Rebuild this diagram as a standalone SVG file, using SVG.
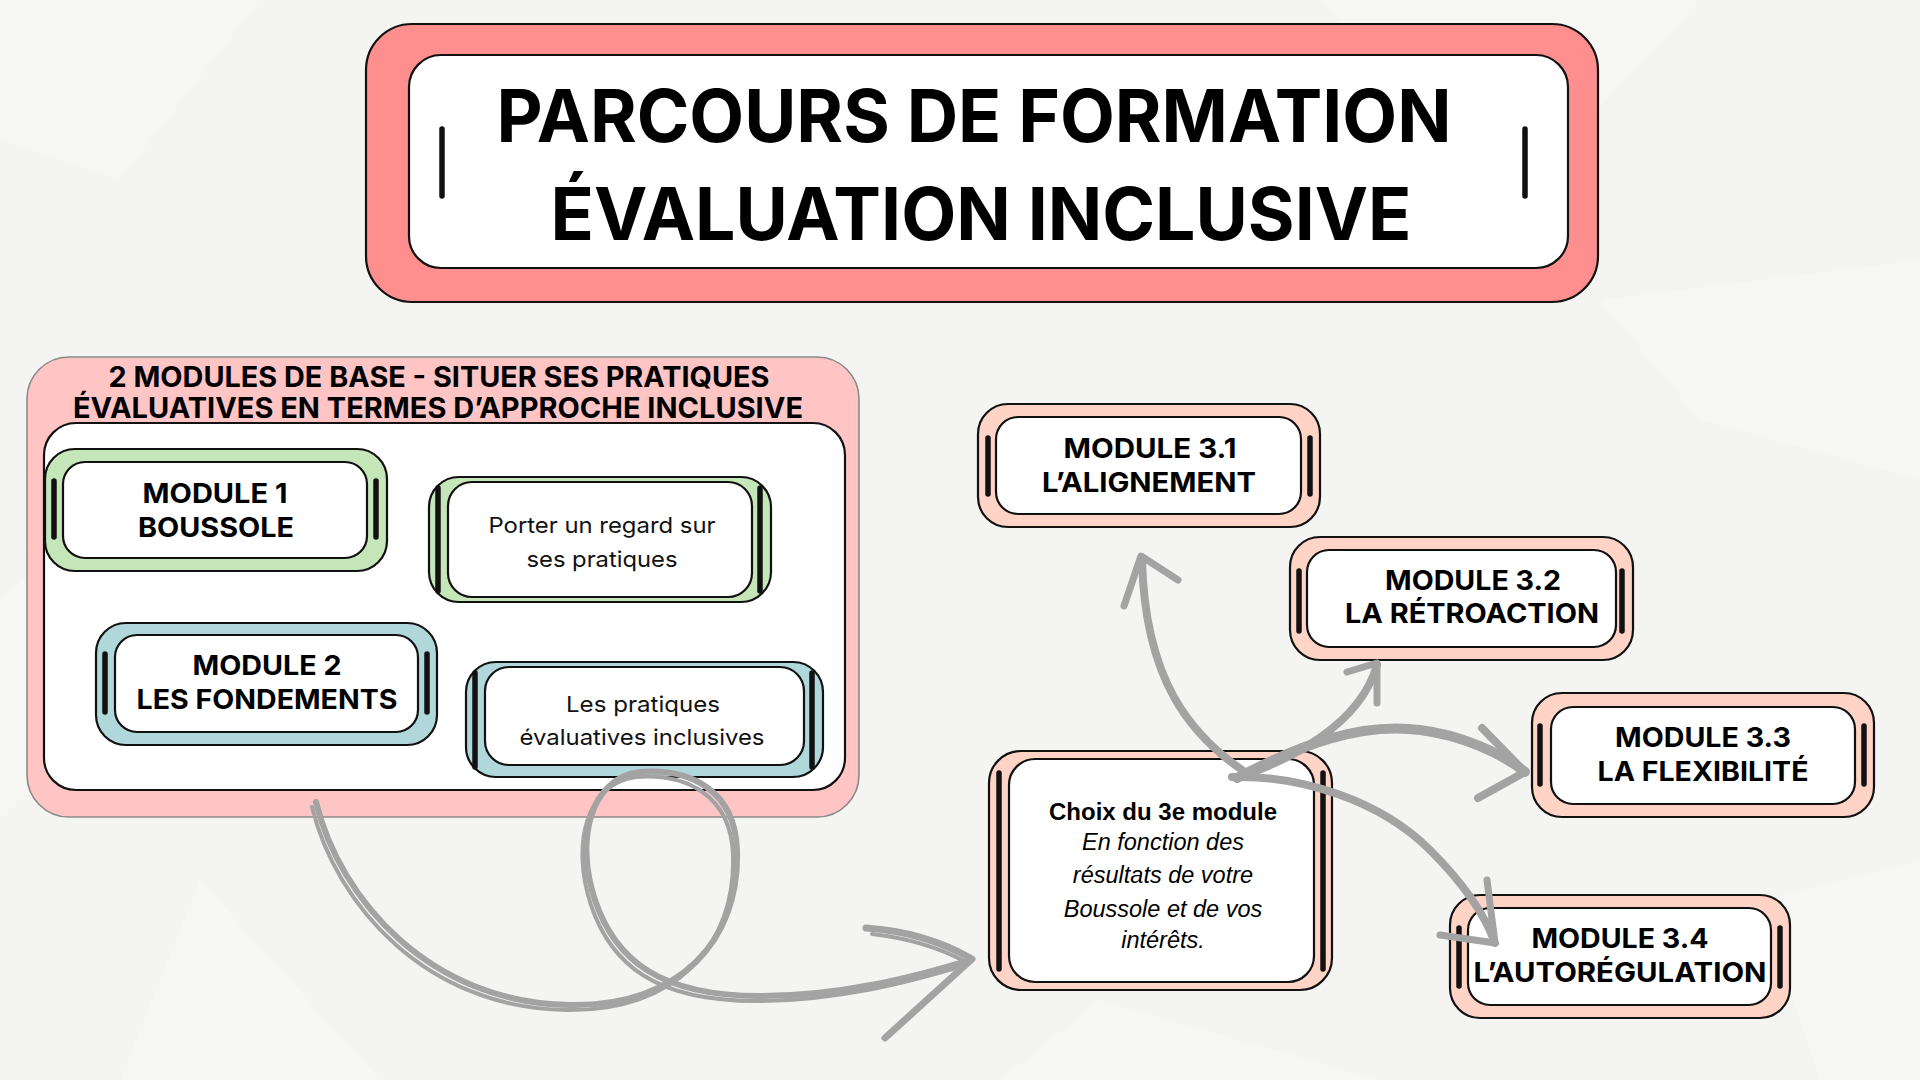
<svg xmlns="http://www.w3.org/2000/svg" xmlns:xlink="http://www.w3.org/1999/xlink" width="1920" height="1080" viewBox="0 0 1920 1080">
<style>
.bg{fill:#f4f4f3}
.tex{fill:#ffffff;opacity:0.22}
.frame{stroke:#111;stroke-width:2.2}
.inner{fill:#fff;stroke:#111;stroke-width:2.2}
.bar{stroke:#111;stroke-width:5.5;stroke-linecap:round}
.pinkT{fill:#ff8f8f}
.grp{fill:#ffc4c4;stroke:#8a8a8a;stroke-width:1.6}
.green{fill:#c5e6b8}
.blue{fill:#b0d7da}
.peach{fill:#ffd3c6}
.h{font-family:Inter,"Noto Sans","Liberation Sans",sans-serif;font-weight:700;fill:#000;text-anchor:middle}
.r{font-family:Inter,"Noto Sans","Liberation Sans",sans-serif;font-weight:400;fill:#111;text-anchor:middle}
.a{font-family:"Liberation Sans",Arial,sans-serif;fill:#000;text-anchor:middle}
.arr{fill:none;stroke:#a3a3a3;stroke-linecap:round;stroke-linejoin:round}
</style>
<defs>
<path id="loop" d="M316,802 C340,900 430,1003 570,1005 C680,1007 740,940 737,850 C735,790 690,768 640,772 C590,778 575,840 595,900 C615,960 660,996 760,996 C840,996 910,978 970,960"/>
</defs>
<rect class="bg" x="0" y="0" width="1920" height="1080"/>
<g id="texture">
<polygon class="tex" points="0,0 260,0 120,180 0,140"/>
<polygon class="tex" points="1320,0 1700,0 1560,150 1400,90"/>
<polygon class="tex" points="0,600 90,520 60,760 0,820"/>
<polygon class="tex" points="1600,300 1920,260 1920,480 1700,420"/>
<polygon class="tex" points="200,880 380,1080 120,1080"/>
<polygon class="tex" points="1100,1000 1380,1080 1000,1080"/>
<polygon class="tex" points="1760,900 1920,860 1920,1080 1820,1080"/>
</g>

<g id="title">
<rect class="pinkT frame" x="366" y="24" width="1232" height="278" rx="46"/>
<rect class="inner" x="409" y="55" width="1159" height="213" rx="32"/>
<line class="bar" x1="442" y1="129" x2="442" y2="196"/>
<line class="bar" x1="1525" y1="129" x2="1525" y2="196"/>
<text class="h" x="974" y="142" font-size="73" font-weight="800" textLength="955" lengthAdjust="spacingAndGlyphs">PARCOURS DE FORMATION</text>
<text class="h" x="981" y="240" font-size="73" font-weight="800" textLength="861" lengthAdjust="spacingAndGlyphs">ÉVALUATION INCLUSIVE</text>
</g>

<g id="base-modules">
<rect class="grp" x="27" y="357" width="832" height="460" rx="42"/>
<text class="h" x="439" y="387" font-size="28" textLength="661" lengthAdjust="spacingAndGlyphs">2 MODULES DE BASE - SITUER SES PRATIQUES</text>
<text class="h" x="438" y="418" font-size="28" textLength="730" lengthAdjust="spacingAndGlyphs">ÉVALUATIVES EN TERMES D’APPROCHE INCLUSIVE</text>
<rect class="inner" x="44" y="423" width="801" height="367" rx="32"/>
</g>

<g id="module1">
<rect class="green frame" x="45" y="449" width="342" height="122" rx="30"/>
<rect class="inner" x="63" y="462" width="304" height="96" rx="22"/>
<line class="bar" x1="54" y1="481" x2="54" y2="537"/>
<line class="bar" x1="376" y1="481" x2="376" y2="537"/>
<text class="h" x="215" y="503" font-size="27" textLength="145" lengthAdjust="spacingAndGlyphs">MODULE 1</text>
<text class="h" x="216" y="537" font-size="27" textLength="156" lengthAdjust="spacingAndGlyphs">BOUSSOLE</text>
</g>

<g id="regard">
<rect class="green frame" x="429" y="477" width="342" height="125" rx="30"/>
<rect class="inner" x="448" y="482" width="304" height="115" rx="24"/>
<line class="bar" x1="438" y1="488" x2="438" y2="591"/>
<line class="bar" x1="760" y1="488" x2="760" y2="591"/>
<text class="r" x="602" y="533" font-size="22" textLength="227" lengthAdjust="spacingAndGlyphs">Porter un regard sur</text>
<text class="r" x="602" y="567" font-size="22" textLength="151" lengthAdjust="spacingAndGlyphs">ses pratiques</text>
</g>

<g id="module2">
<rect class="blue frame" x="96" y="623" width="341" height="122" rx="30"/>
<rect class="inner" x="115" y="635" width="303" height="97" rx="22"/>
<line class="bar" x1="105" y1="654" x2="105" y2="712"/>
<line class="bar" x1="427" y1="654" x2="427" y2="712"/>
<text class="h" x="267" y="675" font-size="27" textLength="149" lengthAdjust="spacingAndGlyphs">MODULE 2</text>
<text class="h" x="267" y="709" font-size="27" textLength="261" lengthAdjust="spacingAndGlyphs">LES FONDEMENTS</text>
</g>

<g id="pratiques">
<rect class="blue frame" x="466" y="662" width="357" height="115" rx="30"/>
<rect class="inner" x="485" y="667" width="319" height="98" rx="24"/>
<line class="bar" x1="475" y1="673" x2="475" y2="767"/>
<line class="bar" x1="812" y1="673" x2="812" y2="767"/>
<text class="r" x="643" y="712" font-size="22" textLength="154" lengthAdjust="spacingAndGlyphs">Les pratiques</text>
<text class="r" x="642" y="745" font-size="22" textLength="245" lengthAdjust="spacingAndGlyphs">évaluatives inclusives</text>
</g>

<g id="module31">
<rect class="peach frame" x="978" y="404" width="342" height="123" rx="30"/>
<rect class="inner" x="996" y="417" width="305" height="97" rx="22"/>
<line class="bar" x1="988" y1="438" x2="988" y2="494"/>
<line class="bar" x1="1310" y1="438" x2="1310" y2="494"/>
<text class="h" x="1150" y="458" font-size="27" textLength="173" lengthAdjust="spacingAndGlyphs">MODULE 3.1</text>
<text class="h" x="1149" y="492" font-size="27" textLength="214" lengthAdjust="spacingAndGlyphs">L’ALIGNEMENT</text>
</g>

<g id="module32">
<rect class="peach frame" x="1290" y="537" width="343" height="123" rx="30"/>
<rect class="inner" x="1307" y="550" width="309" height="97" rx="22"/>
<line class="bar" x1="1299" y1="571" x2="1299" y2="631"/>
<line class="bar" x1="1622" y1="571" x2="1622" y2="631"/>
<text class="h" x="1473" y="590" font-size="27" textLength="176" lengthAdjust="spacingAndGlyphs">MODULE 3.2</text>
<text class="h" x="1472" y="623" font-size="27" textLength="254" lengthAdjust="spacingAndGlyphs">LA RÉTROACTION</text>
</g>

<g id="module33">
<rect class="peach frame" x="1532" y="693" width="342" height="124" rx="30"/>
<rect class="inner" x="1551" y="707" width="304" height="97" rx="22"/>
<line class="bar" x1="1540" y1="726" x2="1540" y2="784"/>
<line class="bar" x1="1864" y1="726" x2="1864" y2="784"/>
<text class="h" x="1703" y="747" font-size="27" textLength="176" lengthAdjust="spacingAndGlyphs">MODULE 3.3</text>
<text class="h" x="1703" y="781" font-size="27" textLength="211" lengthAdjust="spacingAndGlyphs">LA FLEXIBILITÉ</text>
</g>

<g id="module34">
<rect class="peach frame" x="1450" y="895" width="340" height="123" rx="30"/>
<rect class="inner" x="1468" y="908" width="303" height="97" rx="22"/>
<line class="bar" x1="1459" y1="928" x2="1459" y2="986"/>
<line class="bar" x1="1780" y1="928" x2="1780" y2="986"/>
<text class="h" x="1620" y="948" font-size="27" textLength="177" lengthAdjust="spacingAndGlyphs">MODULE 3.4</text>
<text class="h" x="1620" y="982" font-size="27" textLength="293" lengthAdjust="spacingAndGlyphs">L’AUTORÉGULATION</text>
</g>

<g id="choix">
<rect class="peach frame" x="989" y="751" width="343" height="239" rx="32"/>
<rect class="inner" x="1009" y="759" width="305" height="223" rx="26"/>
<line class="bar" x1="999" y1="773" x2="999" y2="969"/>
<line class="bar" x1="1323" y1="773" x2="1323" y2="969"/>
<text class="a" x="1163" y="820" font-size="24" font-weight="700">Choix du 3e module</text>
<text class="a" x="1163" y="850" font-size="23.5" font-style="italic">En fonction des</text>
<text class="a" x="1163" y="883" font-size="23.5" font-style="italic">résultats de votre</text>
<text class="a" x="1163" y="917" font-size="23.5" font-style="italic">Boussole et de vos</text>
<text class="a" x="1163" y="948" font-size="23.5" font-style="italic">intérêts.</text>
</g>

<g id="connectors">
<use href="#loop" xlink:href="#loop" class="arr" stroke-width="6"/>
<use href="#loop" xlink:href="#loop" class="arr" stroke-width="4" transform="translate(-4,5)"/>
<path class="arr" stroke-width="7" d="M866,928 Q925,932 972,959 L885,1038"/>
<path class="arr" stroke-width="4" d="M872,934 Q925,940 966,962"/>
<path class="arr" stroke-width="8" d="M1245,772 C1190,735 1145,680 1142,560"/>
<path class="arr" stroke-width="7" d="M1124,606 L1141,556 L1178,580"/>
<path class="arr" stroke-width="8" d="M1237,778 C1290,760 1360,725 1377,665"/>
<path class="arr" stroke-width="7" d="M1347,672 L1377,663 L1377,703"/>
<path class="arr" stroke-width="10" d="M1237,778 C1300,745 1360,722 1420,730 C1460,735 1500,752 1525,772"/>
<path class="arr" stroke-width="8" d="M1482,728 L1525,772 L1478,798"/>
<path class="arr" stroke-width="8" d="M1232,777 C1300,775 1380,800 1430,850 C1465,885 1485,915 1495,943"/>
<path class="arr" stroke-width="7" d="M1487,880 L1495,943 L1440,935"/>
</g>
</svg>
